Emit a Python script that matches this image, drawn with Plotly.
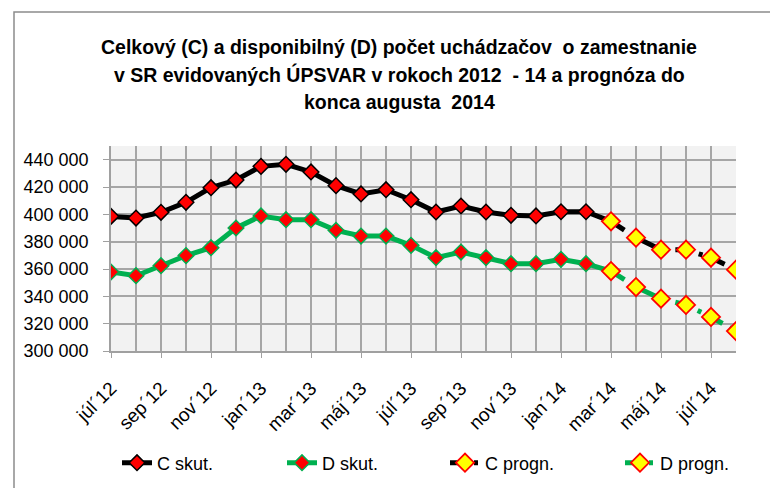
import plotly.graph_objects as go

months = ["júl´12", "aug´12", "sep´12", "okt´12", "nov´12", "dec´12",
          "jan´13", "feb´13", "mar´13", "apr´13", "máj´13", "jún´13",
          "júl´13", "aug´13", "sep´13", "okt´13", "nov´13", "dec´13",
          "jan´14", "feb´14", "mar´14", "apr´14", "máj´14", "jún´14",
          "júl´14", "aug´14"]

c_skut = [398500, 397300, 401500, 408800, 419500, 425100, 435100, 436600,
          431000, 421000, 414900, 418000, 410700, 401700, 406100, 401700,
          399300, 398800, 401900, 401900, 394900]
d_skut = [357800, 355100, 362400, 369800, 375600, 390000, 398800, 396100,
          396100, 388300, 384100, 384100, 377300, 368300, 372400, 368300,
          363900, 363900, 367100, 363900, 358500]
c_progn = [394900, 382900, 374100, 374100, 368300, 359500]
d_progn = [358500, 346800, 338300, 333700, 324900, 314600]

tick_labels = ["júl´12", "sep´12", "nov´12", "jan´13", "mar´13", "máj´13",
               "júl´13", "sep´13", "nov´13", "jan´14", "mar´14", "máj´14",
               "júl´14"]
y_ticks = [300000, 320000, 340000, 360000, 380000, 400000, 420000, 440000]
y_tick_text = ["300 000", "320 000", "340 000", "360 000", "380 000",
               "400 000", "420 000", "440 000"]
title_lines = ["Celkový (C) a disponibilný (D) počet uchádzačov  o zamestnanie",
               "v SR evidovaných ÚPSVAR v rokoch 2012  - 14 a prognóza do",
               "konca augusta  2014"]

FONT = "Liberation Sans, Arial, sans-serif"
GREEN = "#00B050"

# plot-area geometry in pixels
L, R, T, B = 111, 736, 146, 351
W, H = R - L, B - T


def px_x(p):
    return (p - L) / W


def px_y(p):
    return (B - p) / H


x_idx = list(range(len(months)))
skut_x = x_idx[:len(c_skut)]
progn_x = x_idx[len(c_skut) - 1:]
tick_idx = [months.index(t) for t in tick_labels]

fig = go.Figure()
fig.add_trace(go.Scatter(
    x=skut_x, y=c_skut, name="C skut.", mode="lines+markers", legend="legend",
    line=dict(color="black", width=5),
    marker=dict(symbol="diamond", size=12, color="#FF0000",
                line=dict(color="black", width=1.5))))
fig.add_trace(go.Scatter(
    x=skut_x, y=d_skut, name="D skut.", mode="lines+markers", legend="legend2",
    line=dict(color=GREEN, width=5),
    marker=dict(symbol="diamond", size=12, color="#FF0000",
                line=dict(color=GREEN, width=1.5))))
fig.add_trace(go.Scatter(
    x=progn_x, y=c_progn, name="C progn.", mode="lines+markers", legend="legend3",
    line=dict(color="black", width=5, dash="16px,8px,4px,8px"),
    marker=dict(symbol="diamond", size=14, color="#FFFF00",
                line=dict(color="#FF0000", width=1.8))))
fig.add_trace(go.Scatter(
    x=progn_x, y=d_progn, name="D progn.", mode="lines+markers", legend="legend4",
    line=dict(color=GREEN, width=5, dash="16px,8px,4px,8px"),
    marker=dict(symbol="diamond", size=14, color="#FFFF00",
                line=dict(color="#FF0000", width=1.8))))


def leg(text_start):
    return dict(x=px_x(text_start - 40), xanchor="left", y=px_y(463),
                yanchor="middle", orientation="h", font=dict(size=18),
                bgcolor="rgba(0,0,0,0)", borderwidth=0)


fig.update_layout(
    width=770, height=488,
    margin=dict(l=L, r=770 - R, t=T, b=488 - B, autoexpand=False),
    paper_bgcolor="white", plot_bgcolor="#F2F2F2",
    font=dict(family=FONT, color="black", size=16),
    showlegend=True,
    legend=leg(157), legend2=leg(322), legend3=leg(485), legend4=leg(660),
    annotations=[dict(text="<b>%s</b>" % t, xref="paper", yref="paper",
                      x=px_x(399), y=px_y(yc), xanchor="center",
                      yanchor="middle", showarrow=False,
                      font=dict(size=19.5, family=FONT))
                 for t, yc in zip(title_lines, [47, 75, 102])],
    shapes=[dict(type="rect", xref="paper", yref="paper",
                 x0=px_x(14), x1=px_x(775), y0=px_y(495), y1=px_y(12),
                 line=dict(color="#8C8C8C", width=1.5), layer="below")],
)

fig.update_xaxes(
    range=[0, len(months) - 1], tickmode="array", tickvals=tick_idx,
    ticktext=tick_labels, tickangle=-45, ticks="outside", ticklen=5,
    tickcolor="#A0A0A0", showgrid=True, gridcolor="#A6A6A6", gridwidth=1.5,
    minor=dict(dtick=1, tick0=0, showgrid=True, gridcolor="#A6A6A6",
               gridwidth=1.5, ticks=""),
    showline=True, linecolor="#A0A0A0", linewidth=1.5, zeroline=False,
    tickfont=dict(size=19), automargin=False, ticklabelstandoff=12)
fig.update_yaxes(
    range=[300000, 450000], tickmode="array", tickvals=y_ticks,
    ticktext=y_tick_text, ticks="outside", ticklen=6, tickcolor="#A0A0A0",
    showgrid=True, gridcolor="#A6A6A6", gridwidth=1.5,
    showline=True, linecolor="#A0A0A0", linewidth=1.5, zeroline=False,
    tickfont=dict(size=18), automargin=False, ticklabelstandoff=11)

fig.write_html("out.html", config={"displayModeBar": False},
               post_script="document.body.style.margin='0';")
